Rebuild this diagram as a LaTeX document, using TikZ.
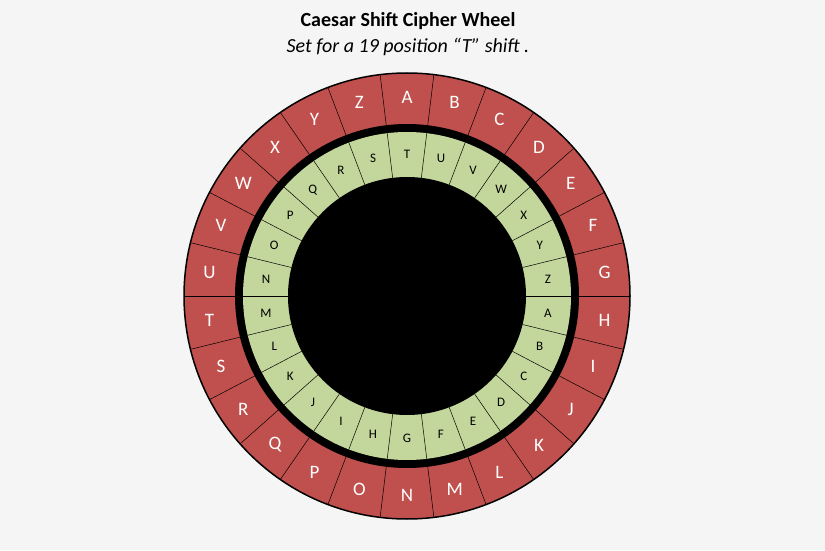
\documentclass[tikz,border=0pt]{standalone}
\usepackage{fontspec}
\setmainfont{Carlito}
\usetikzlibrary{positioning}
\definecolor{ringred}{RGB}{192,80,77}
\definecolor{ringgreen}{RGB}{195,214,155}
\definecolor{paper}{RGB}{245,245,245}
\tikzset{
outer_letter/.style={
	% white capitals on the red ring
	text=white,
	font=\fontsize{19}{19}\selectfont
},
inner_letter/.style={
	% black capitals on the green ring
	text=black,
	font=\fontsize{13}{13}\selectfont
},
divider/.style={draw=black,line width=0.5pt}
}
\begin{document}
\begin{tikzpicture}[x=1pt,y=1pt]
	\fill[paper] (0,0) rectangle (825,550);
	\useasboundingbox (0,0) rectangle (825,550);
	\coordinate (hub) at (407,254);
	% the rings
	\fill[ringred] (hub) circle (223);
	\fill[black] (hub) circle (172);
	\fill[ringgreen] (hub) circle (164);
	\fill[black] (hub) circle (119);
	% dividers and letters
	\foreach \l [count=\i from 0] in {A,B,C,D,E,F,G,H,I,J,K,L,M,N,O,P,Q,R,S,T,U,V,W,X,Y,Z}{
		\pgfmathsetmacro{\a}{90-\i*360/26}
		\pgfmathsetmacro{\b}{\a+180/26}
		\draw[divider] ([shift={(\b:172)}]hub) -- ([shift={(\b:223)}]hub);
		\node[outer_letter] (out\l) at ([shift={(\a:199)}]hub) {\l};
		% green ring is turned so that T sits at the top
		\pgfmathsetmacro{\c}{90-(\i-19)*360/26}
		\pgfmathsetmacro{\d}{\c+180/26}
		\draw[divider] ([shift={(\d:119)}]hub) -- ([shift={(\d:164)}]hub);
		\node[inner_letter] (in\l) at ([shift={(\c:142)}]hub) {\l};
	}
	\draw[black,line width=1.5pt] (hub) circle (223);
	% heading
	\node[font=\bfseries\fontsize{20}{20}\selectfont] (title) at (408,529) {Caesar Shift Cipher Wheel};
	\node[font=\itshape\fontsize{20}{20}\selectfont,below=1pt of title] (subtitle) {Set for a 19 position “T” shift .};
\end{tikzpicture}
\end{document}
